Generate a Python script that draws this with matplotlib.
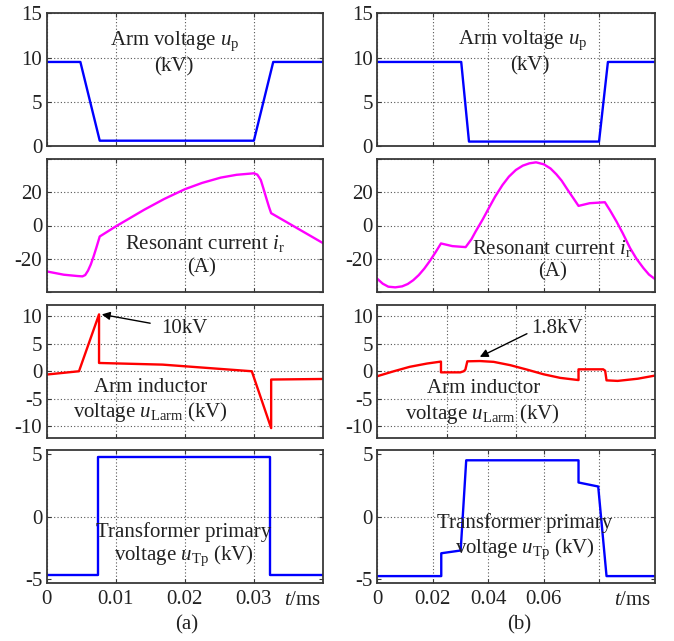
import matplotlib
matplotlib.use("Agg")
import matplotlib.pyplot as plt

plt.rcParams['font.family'] = ['Liberation Serif', 'DejaVu Serif']
plt.rcParams['mathtext.fontset'] = 'custom'
plt.rcParams['mathtext.rm'] = 'Liberation Serif'
plt.rcParams['mathtext.it'] = 'Liberation Serif:italic'
plt.rcParams['axes.unicode_minus'] = False

# ---------------- case (a) ----------------
t_up_a = [0, 0.0049, 0.0077, 0.0300, 0.0328, 0.040]
up_a = [9.5, 9.5, 0.6, 0.6, 9.5, 9.5]

t_ir_a = [0, 0.0025, 0.0045, 0.0052, 0.0056, 0.0060, 0.0064, 0.0068, 0.0072,
          0.0077, 0.0100, 0.0141, 0.0170, 0.0200, 0.0225, 0.0252, 0.0275,
          0.0300, 0.0305, 0.0310, 0.0314, 0.0318, 0.0322, 0.0325, 0.0400]
ir_a = [-27.6, -29.6, -30.4, -30.6, -29.8, -27.2, -23.5, -18.8, -13.5,
        -6.6, -0.6, 9.4, 15.9, 21.8, 25.6, 28.8, 30.5,
        31.4, 30.6, 27.4, 22.0, 16.4, 11.0, 7.4, -10.6]

t_ul_a = [0, 0.0047, 0.0076, 0.0076, 0.0168, 0.0297, 0.0325, 0.0325, 0.0400]
ul_a = [-0.6, 0.0, 10.3, 1.5, 1.2, 0.0, -10.3, -1.5, -1.4]

t_ut_a = [0, 0.0075, 0.0075, 0.0324, 0.0324, 0.0400]
ut_a = [-4.7, -4.7, 4.75, 4.75, -4.7, -4.7]

# ---------------- case (b) ----------------
t_up_b = [0, 0.0303, 0.0331, 0.0800, 0.0832, 0.100]
up_b = [9.5, 9.5, 0.5, 0.5, 9.5, 9.5]

t_ir_b = [0, 0.0020, 0.0040, 0.0065, 0.0090, 0.0110, 0.0130, 0.0150, 0.0170,
          0.0190, 0.0210, 0.0230, 0.0271, 0.0319, 0.0340, 0.0355, 0.0380,
          0.0401, 0.0425, 0.0452, 0.0475, 0.0500, 0.0525, 0.0549, 0.0573,
          0.0601, 0.0625, 0.0646, 0.0665, 0.0687, 0.0705, 0.0726, 0.0766,
          0.0821, 0.0840, 0.0863, 0.0885, 0.0912, 0.0935, 0.0960, 0.0980,
          0.1000]
ir_b = [-32.0, -35.0, -36.8, -37.2, -36.6, -35.2, -32.9, -29.8, -25.9,
        -21.3, -16.2, -10.8, -12.4, -13.0, -8.2, -3.6, 3.5,
        10.0, 17.3, 24.4, 29.4, 33.4, 36.0, 37.4, 38.0,
        36.8, 34.3, 30.8, 27.0, 21.4, 17.0, 11.8, 13.4,
        14.0, 9.0, 2.4, -4.5, -13.6, -20.0, -25.6, -29.5,
        -32.0]

t_ul_b = [0, 0.0060, 0.0117, 0.0180, 0.0230, 0.0230, 0.0300, 0.0312, 0.0318,
          0.0325, 0.0370, 0.0420, 0.0480, 0.0540, 0.0600, 0.0660, 0.0726,
          0.0726, 0.0815, 0.0822, 0.0827, 0.0867, 0.0940, 0.1000]
ul_b = [-0.9, 0.0, 0.8, 1.4, 1.75, -0.2, -0.2, 0.0, 0.3,
        1.8, 1.85, 1.7, 1.1, 0.3, -0.55, -1.2, -1.6,
        0.35, 0.35, 0.1, -1.65, -1.75, -1.35, -0.8]

t_ut_b = [0, 0.0231, 0.0231, 0.0301, 0.0321, 0.0726, 0.0726, 0.0797, 0.0827, 0.100]
ut_b = [-4.75, -4.75, -2.93, -2.71, 4.48, 4.48, 2.71, 2.39, -4.75, -4.75]

peak_a = 10.3
peak_b = 1.8

BLUE = '#0000FF'
MAGENTA = '#FF00FF'
RED = '#FF0000'
TXT = '#222222'
FS = 15

W, H = 674, 641
fig = plt.figure(figsize=(W / 100, H / 100), dpi=100)

rows_px = [(13.3, 146), (159, 292), (305, 437.5), (450, 583)]
cols_px = [(46.5, 323.0), (377.2, 654.5)]


def make_ax(col, row):
    x0, x1 = cols_px[col]
    y0, y1 = rows_px[row]
    ax = fig.add_axes([x0 / W, 1 - y1 / H, (x1 - x0) / W, (y1 - y0) / H])
    for s in ax.spines.values():
        s.set_color('#383838')
        s.set_linewidth(1.3)
    ax.tick_params(direction='in', top=True, right=True, length=3,
                   width=0.8, color='#383838', labelsize=FS, pad=3,
                   labelcolor=TXT)
    ax.grid(True, linestyle=(0, (1, 2)), color='#555555', linewidth=0.8)
    return ax


def style_text(ax, x, y, s):
    ax.text(x, y, s, ha='center', va='center', fontsize=FS, color=TXT)


def finish_x(ax, xlim, ticks, bottom, labels=None, tms_x=None):
    ax.set_xlim(*xlim)
    ax.set_xticks(ticks)
    if bottom:
        ax.set_xticklabels(labels)
        ax.tick_params(axis='x', pad=5)
        ax.annotate('$t$/ms', xy=(tms_x, 0), xycoords=('data', 'axes fraction'),
                    xytext=(0, -5.5), textcoords='offset points',
                    ha='center', va='top', fontsize=FS, color=TXT)
    else:
        ax.set_xticklabels([])


for col in range(2):
    if col == 0:
        xlim = (0, 0.04)
        ticks = [0, 0.01, 0.02, 0.03]
        ticks_row3 = ticks
        labels = ['0', '0.01', '0.02', '0.03']
        tms_x = 0.037
        data = (t_up_a, up_a, t_ir_a, ir_a, t_ul_a, ul_a, t_ut_a, ut_a)
        txt = dict(up=(0.0186, 11.8, 0.0184, 8.9),
                   ir=(0.0229, -10.6, 0.0225, -25.6),
                   ul=(0.0150, -2.9, 0.0151, -7.45),
                   ut=(0.0199, -1.2, 0.0199, -3.1))
        ann = ('10kV', (0.0166, 7.8), (0.0150, 8.7), (0.0080, peak_a))
    else:
        xlim = (0, 0.1)
        ticks = [0, 0.02, 0.04, 0.06, 0.08]
        ticks_row3 = [0, 0.025, 0.05, 0.075]
        labels = ['0', '0.02', '0.04', '0.06', '']
        tms_x = 0.092
        data = (t_up_b, up_b, t_ir_b, ir_b, t_ul_b, ul_b, t_ut_b, ut_b)
        txt = dict(up=(0.0524, 11.95, 0.0551, 9.1),
                   ir=(0.0631, -13.6, 0.0633, -27.6),
                   ul=(0.0383, -3.15, 0.0380, -7.7),
                   ut=(0.0533, -0.55, 0.0533, -2.55))
        ann = ('1.8kV', (0.0555, 7.8), (0.0540, 6.8), (0.0370, peak_b + 0.8))

    # arm voltage
    ax = make_ax(col, 0)
    ax.plot(data[0], data[1], color=BLUE, lw=1.7)
    ax.set_ylim(0, 15)
    ax.set_yticks([0, 5, 10, 15])
    finish_x(ax, xlim, ticks, False)
    x1, y1, x2, y2 = txt['up']
    style_text(ax, x1, y1, r'Arm voltage $u_{\rm p}$')
    style_text(ax, x2, y2, '(kV)')

    # resonant current
    ax = make_ax(col, 1)
    ax.plot(data[2], data[3], color=MAGENTA, lw=1.7)
    ax.set_ylim(-40, 40)
    ax.set_yticks([-40, -20, 0, 20, 40])
    ax.set_yticklabels(['', '-20', '0', '20', ''])
    finish_x(ax, xlim, ticks, False)
    x1, y1, x2, y2 = txt['ir']
    style_text(ax, x1, y1, r'Resonant current $i_{\rm r}$')
    style_text(ax, x2, y2, '(A)')

    # arm inductor voltage
    ax = make_ax(col, 2)
    ax.plot(data[4], data[5], color=RED, lw=1.7)
    ax.set_ylim(-12, 12)
    ax.set_yticks([-10, -5, 0, 5, 10])
    finish_x(ax, xlim, ticks_row3, False)
    x1, y1, x2, y2 = txt['ul']
    style_text(ax, x1, y1, 'Arm inductor')
    style_text(ax, x2, y2, r'voltage $u_{\rm Larm}$ (kV)')
    label, tpos, tail, head = ann
    ax.text(tpos[0], tpos[1], label, ha='left', va='center', fontsize=FS,
            color=TXT)
    ax.annotate('', xy=head, xytext=tail,
                arrowprops=dict(arrowstyle='-|>', color='black', lw=1.0,
                                mutation_scale=12, shrinkA=0, shrinkB=0))

    # transformer primary voltage
    ax = make_ax(col, 3)
    ax.plot(data[6], data[7], color=BLUE, lw=1.7)
    ax.set_ylim(-5.3, 5.3)
    ax.set_yticks([-5, 0, 5])
    finish_x(ax, xlim, ticks, True, labels, tms_x)
    ax.yaxis.get_gridlines()[0].set_visible(False)
    ax.yaxis.get_gridlines()[2].set_visible(False)
    x1, y1, x2, y2 = txt['ut']
    style_text(ax, x1, y1, 'Transformer primary')
    style_text(ax, x2, y2, r'voltage $u_{\rm Tp}$ (kV)')

fig.text(186.7 / W, 1 - 625 / H, '(a)', ha='center', va='center', fontsize=FS,
         color=TXT)
fig.text(519 / W, 1 - 625 / H, '(b)', ha='center', va='center', fontsize=FS,
         color=TXT)

fig.savefig('out.png', dpi=100, facecolor='white')
